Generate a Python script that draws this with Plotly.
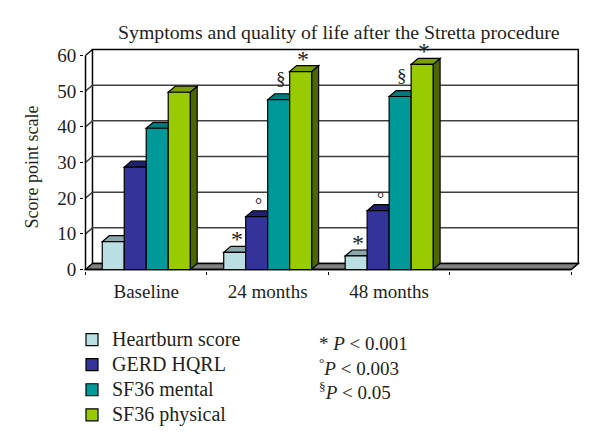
import plotly.graph_objects as go

# values
categories = ["Baseline", "24 months", "48 months"]
heartburn = [7.8, 4.8, 3.8]
gerd = [28.7, 14.8, 16.5]
sf36_mental = [39.6, 47.6, 48.5]
sf36_physical = [49.7, 55.5, 57.5]
series_names = ["Heartburn score", "GERD HQRL", "SF36 mental", "SF36 physical"]
y_ticks = [0, 10, 20, 30, 40, 50, 60]
n_slots = 4  # the fourth category slot is empty in the original

# (category index, series index, glyph)
sig_marks = [
    (1, 0, "*"), (1, 1, "°"), (1, 2, "§"), (1, 3, "*"),
    (2, 0, "*"), (2, 1, "°"), (2, 2, "§"), (2, 3, "*"),
]
p_notes = ["* <i>P</i> &lt; 0.001", "<sup>°</sup><i>P</i> &lt; 0.003", "<sup>§</sup><i>P</i> &lt; 0.05"]

all_values = [heartburn, gerd, sf36_mental, sf36_physical]
front_colors = ["#B9DFE3", "#333399", "#009999", "#99CC00"]
top_colors = ["#8AA7AA", "#20206E", "#007A7A", "#7A9F00"]
side_colors = ["#6E8688", "#14144A", "#005050", "#4D6600"]

FONT = "Liberation Serif"
TEXT = "#231F20"

# pixel scale of the axes, used to express the 3D depth in data units
PX_X = 121.7
PX_Y = 3.583
PAD = 1.5
BAR_W = 0.181
dx = 7 / PX_X
dy = 6 / PX_Y

# the page body has an 8px margin, so the figure is 8px smaller on each axis
BODY = 8
WIDTH, HEIGHT = 600 - BODY, 445 - BODY
margin = dict(l=83.5 - BODY, r=19.5, t=47.5 - BODY, b=173.5, autoexpand=False)
plot_w = WIDTH - margin["l"] - margin["r"]
plot_h = HEIGHT - margin["t"] - margin["b"]
x_left = -0.5 - PAD / PX_X
x_right = x_left + plot_w / PX_X
y_low = -PAD / PX_Y
y_high = y_low + plot_h / PX_Y
x0, x1 = -0.5, n_slots - 0.5


def page_x(px):
    return (px - BODY - margin["l"]) / plot_w


def page_y(px):
    return 1 - (px - BODY - margin["t"]) / plot_h


def poly(points, fill, line="black", width=1.2):
    path = "M" + "L".join(f"{x},{y}" for x, y in points) + "Z"
    return dict(type="path", path=path, xref="x", yref="y", layer="below",
                fillcolor=fill, line=dict(color=line, width=width))


def seg(points, color, width):
    path = "M" + "L".join(f"{x},{y}" for x, y in points)
    return dict(type="path", path=path, xref="x", yref="y", layer="below",
                line=dict(color=color, width=width))


shapes = []
# back wall, left wall edge and floor
shapes.append(poly([(x0 + dx, dy), (x0 + dx, 60 + dy), (x1 + dx, 60 + dy), (x1 + dx, dy)], "white", width=1.5))
shapes.append(poly([(x0, 0), (x0 + dx, dy), (x1 + dx, dy), (x1, 0)], "#808080", width=1.5))
for v in y_ticks[1:-1]:
    shapes.append(seg([(x0, v), (x0 + dx, v + dy), (x1 + dx, v + dy)], "#404040", 1.5))
shapes.append(seg([(x0, 60), (x0 + dx, 60 + dy)], "black", 1.2))
shapes.append(seg([(x0, 0), (x0, 60)], "black", 1.5))
shapes.append(seg([(x0, 0), (x1, 0)], "black", 1.5))

# side and top faces of the bars; the front faces are the real bar traces
for k, values in enumerate(all_values):
    for c, v in enumerate(values):
        left = c + (k - 2) * BAR_W
        right = left + BAR_W
        shapes.append(poly([(right, 0), (right + dx, dy), (right + dx, v + dy), (right, v)], side_colors[k]))
        shapes.append(poly([(left, v), (left + dx, v + dy), (right + dx, v + dy), (right, v)], top_colors[k]))

fig = go.Figure()
for k, values in enumerate(all_values):
    fig.add_trace(go.Bar(
        x=list(range(len(categories))),
        y=values,
        # legend row height follows legend.font, the bigger span keeps the rows tight
        name=f"<span style='font-size:20px'>{series_names[k]}</span>",
        legendgroup=series_names[k],
        marker=dict(color=front_colors[k], line=dict(color="black", width=1.2)),
    ))

annotations = []
glyph_style = {"*": dict(size=24, lift=13), "°": dict(size=18, lift=12), "§": dict(size=19, lift=21)}
for c, k, glyph in sig_marks:
    style = glyph_style[glyph]
    annotations.append(dict(
        x=c + (k - 1.5) * BAR_W, y=all_values[k][c], xref="x", yref="y",
        text=glyph, showarrow=False, yshift=style["lift"], xshift=2,
        font=dict(family=FONT, size=style["size"], color=TEXT),
    ))

annotations.append(dict(
    x=page_x(339), y=page_y(31), xref="paper", yref="paper", xanchor="center", yanchor="middle",
    text="Symptoms and quality of life after the Stretta procedure", showarrow=False,
    font=dict(family=FONT, size=19.8, color=TEXT),
))
annotations.append(dict(
    x=page_x(31), y=page_y(167), xref="paper", yref="paper", xanchor="center", yanchor="middle",
    text="Score point scale", textangle=-90, showarrow=False,
    font=dict(family=FONT, size=18, color=TEXT),
))
for i, note in enumerate(p_notes):
    annotations.append(dict(
        x=page_x(317), y=page_y(344 + i * 24), xref="paper", yref="paper",
        xanchor="left", yanchor="middle", text=note, showarrow=False, align="left",
        font=dict(family=FONT, size=19, color=TEXT),
    ))

fig.update_layout(
    width=WIDTH,
    height=HEIGHT,
    margin=margin,
    paper_bgcolor="white",
    plot_bgcolor="white",
    barmode="group",
    bargap=1 - 4 * BAR_W,
    bargroupgap=0,
    shapes=shapes,
    annotations=annotations,
    font=dict(family=FONT, size=19, color=TEXT),
    legend=dict(
        xref="container", yref="container",
        x=(72 - BODY) / WIDTH, y=1 - (322 - BODY) / HEIGHT, xanchor="left", yanchor="top",
        font=dict(family=FONT, size=17, color=TEXT),
        bgcolor="rgba(0,0,0,0)",
        tracegroupgap=0,
        traceorder="normal",
    ),
    xaxis=dict(
        range=[x_left, x_right],
        tickvals=list(range(len(categories))),
        ticktext=categories,
        tickangle=0,
        ticks="",
        showgrid=False,
        zeroline=False,
        showline=False,
        ticklabelstandoff=7,
        minor=dict(tickvals=[x0 + i for i in range(n_slots + 1)], ticks="outside",
                   ticklen=3, tickcolor="black", tickwidth=1, showgrid=False),
    ),
    yaxis=dict(
        range=[y_low, y_high],
        tickvals=y_ticks,
        ticks="outside",
        ticklen=3,
        tickcolor="black",
        tickwidth=1,
        showgrid=False,
        zeroline=False,
        showline=False,
        tickfont=dict(family=FONT, size=19, color=TEXT),
    ),
)

fig.write_html("out.html")
